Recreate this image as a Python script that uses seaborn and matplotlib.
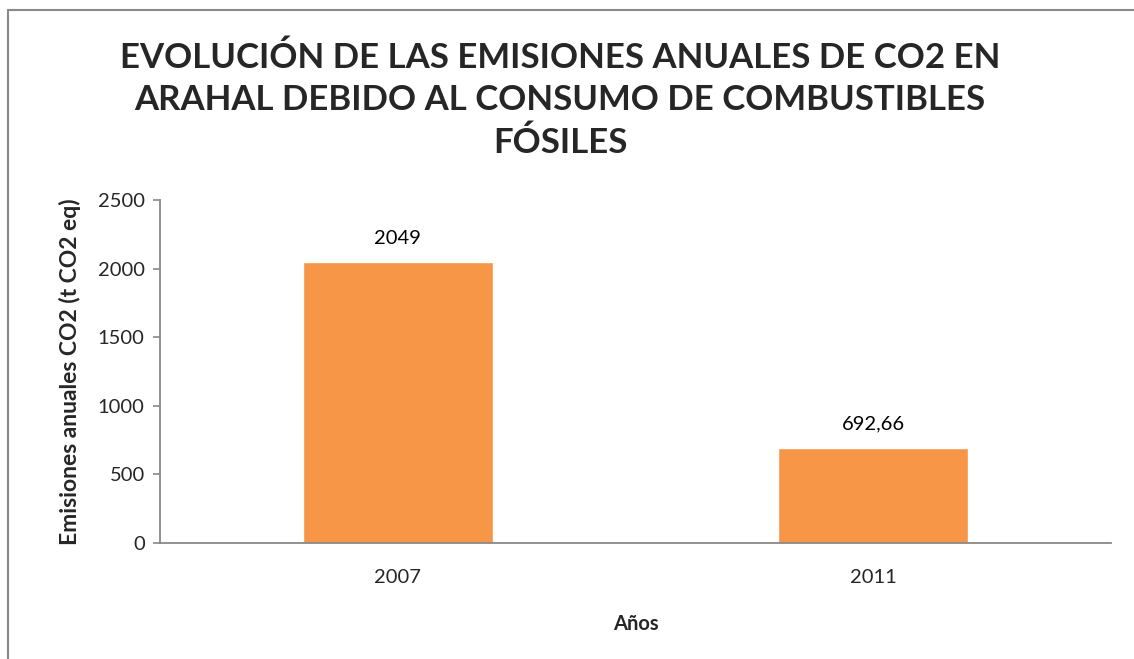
import numpy as np
import pandas as pd
import seaborn as sns
import matplotlib.pyplot as plt
from matplotlib.patches import Rectangle

years = ['2007', '2011']
emisiones = [2049, 692.66]
etiquetas = ['2049', '692,66']

sns.set_theme(style='white')
plt.rcParams['font.family'] = ['Lato', 'DejaVu Sans']

fig = plt.figure(figsize=(11.34, 6.59), dpi=100)
ax = fig.add_axes([160/1134, 1-543/659, (1111-160)/1134, (543-200)/659])

df = pd.DataFrame({'Año': years, 'Emisiones': emisiones})
sns.barplot(data=df, x='Año', y='Emisiones', color='#F79646', saturation=1,
            width=0.4, ax=ax)

ax.set_ylim(0, 2500)
ax.set_yticks(np.arange(0, 2501, 500))
ax.set_xlim(-0.5, 1.5)

for i, (v, t) in enumerate(zip(emisiones, etiquetas)):
    ax.annotate(t, (i, v), xytext=(0, 11), textcoords='offset points',
                ha='center', va='bottom', fontsize=14.5, color='black')

for s in ['top', 'right']:
    ax.spines[s].set_visible(False)
for s in ['left', 'bottom']:
    ax.spines[s].set_color('#898989')
    ax.spines[s].set_linewidth(1.3)

ax.tick_params(axis='y', which='major', left=True, length=5, width=1.2,
               color='#898989', labelsize=14.5, pad=6)
ax.tick_params(axis='x', bottom=False, labelsize=14.5, pad=13)

ax.set_xlabel('Años', fontsize=14.5, fontweight='bold', labelpad=20)
ax.set_ylabel('Emisiones anuales CO2 (t CO2 eq)', fontsize=16.5,
              fontweight='bold', labelpad=12)

fig.text(0.494, 1-100/659,
         'EVOLUCIÓN DE LAS EMISIONES ANUALES DE CO2 EN\n'
         'ARAHAL DEBIDO AL CONSUMO DE COMBUSTIBLES\nFÓSILES',
         ha='center', va='center', fontsize=25, fontweight='bold',
         linespacing=1.4)

# chart border
fig.add_artist(Rectangle((8/1134, -0.1), 1.2, 1.1 - 10/659,
                         transform=fig.transFigure, fill=False,
                         edgecolor='#898989', linewidth=1.5))

fig.savefig('out.png', dpi=100)
